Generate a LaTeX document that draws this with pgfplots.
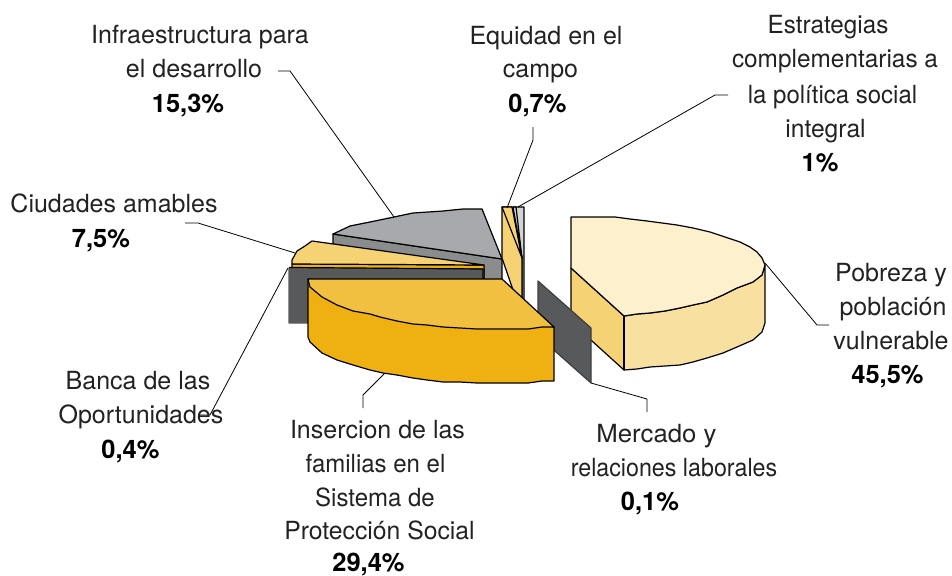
\documentclass[border=0pt]{standalone}
\usepackage{pgfplots}
\pgfplotsset{compat=1.18}
\usepackage{fontspec}
\setmainfont{TeX Gyre Heros}
\definecolor{cGrayTop}{HTML}{A7A9AC}
\definecolor{cGraySide}{HTML}{8A8C8E}
\definecolor{cDark}{HTML}{58595B}
\definecolor{cYel}{HTML}{F5D273}
\definecolor{cOrTop}{HTML}{F1C040}
\definecolor{cOrSide}{HTML}{EEB111}
\definecolor{cPale}{HTML}{FDF0CD}
\definecolor{cPaleSide}{HTML}{F8E0A0}
\definecolor{cLight}{HTML}{D1D3D4}
\definecolor{cTxt}{HTML}{222222}
\tikzset{lab/.style={anchor=base,inner sep=0pt,text=cTxt,overlay,font=\fontsize{25}{25}\selectfont},
 pct/.style={lab,text=black,font=\fontsize{25.5}{25.5}\selectfont\bfseries}}
\newcommand{\sx}[2]{\scalebox{#1}[1]{#2}}
\begin{document}
\begin{tikzpicture}
\begin{axis}[scale only axis,width=952pt,height=575pt,xmin=0,xmax=952,ymin=0,ymax=575,y dir=reverse,hide axis,clip=false,
 every axis plot/.append style={line width=1.2pt,draw=black,no markers,line join=round}]
\path (axis cs:0,0) rectangle (axis cs:952,575);
% gray slice (Infraestructura)
\addplot[fill=cGraySide] coordinates {(333,234)(502,259)(502,281)(484,281)(484,268)(333,244)} --cycle;
\addplot[fill=cGrayTop] coordinates {(333,234)(350,226)(370,222)(394,217)(413,213)(443,211)(463,209)(482,209)(502,259)} --cycle;
% narrow slices
\addplot[fill=cLight] coordinates {(513,207)(524,207)(524,299)(522,299)(522,258)} --cycle;
\addplot[fill=cYel] coordinates {(502,207)(512,207)(522,258)(522,299)(513,290)(502,258)} --cycle;
\addplot[fill=cYel] coordinates {(502,207)(512,207)(522,258)} --cycle;
\addplot[fill=cLight] coordinates {(513,207)(516,207)(522,258)} --cycle;
% Ciudades amables
\addplot[fill=cOrSide] coordinates {(292,264)(484,265)(484,280)(480,280)(480,269)(292,269)} --cycle;
\addplot[fill=cYel] coordinates {(292,264)(292,260)(297,251)(305,246)(312,241)(484,265)} --cycle;
% Banca
\addplot[fill=cDark,draw=cDark] coordinates {(289,268)(483,269)(483,280)(400,280)(400,323)(289,323)} --cycle;
\addplot[draw=black] coordinates {(289,267.5)(483,269)(483,280)};
% Pobreza
\addplot[fill=cYel] coordinates {(571,268)(624,316)(624,370)(571,322)} --cycle;
\addplot[fill=cPaleSide] coordinates {(624,316)(637,314)(650,313)(665,311)(680,308)(693,305)(707,302)(723,295)(737,288)(753,282)(762,275)(765,265)(765,323)(762,332)(753,340)(737,347)(723,353)(707,358)(693,362)(680,365)(665,366)(650,367)(637,369)(624,370)} --cycle;
\addplot[fill=cPale] coordinates {(571,217)(615,217)(630,219)(647,221)(662,223)(677,225)(693,228)(710,232)(725,237)(740,242)(750,247)(757,252)(762,258)(765,265)(762,275)(753,282)(737,288)(723,295)(707,302)(693,305)(680,308)(665,311)(650,313)(637,314)(624,316)(571,268)} --cycle;
\addplot[draw=black,line width=1.7pt] coordinates {(624,316)(624,370)};
% Mercado
\addplot[fill=cDark,draw=cDark!70!black] coordinates {(538,281)(591,328)(591,383)(538,336)} --cycle;
% Insercion
\addplot[fill=cOrSide] coordinates {(308,279)(308,337)(310,342)(322,353)(337,360)(353,365)(370,370)(383,373)(397,375)(413,378)(427,380)(443,382)(460,382)(477,383)(503,383)(528,383)(542,381)(554,381)(554,327)} --cycle;
\addplot[fill=cOrTop] coordinates {(308,279)(502,279)(554,327)(542,327)(528,329)(503,329)(477,329)(460,328)(443,327)(427,325)(413,324)(397,321)(380,317)(370,314)(353,311)(337,305)(322,297)(310,287)} --cycle;
% leaders
\addplot[draw=black,line width=0.8pt] coordinates {(278,71)(290,71)(394,217)};
\addplot[draw=black,line width=0.8pt] coordinates {(185,223)(198,223)(295,253)};
\addplot[draw=black,line width=0.8pt] coordinates {(198,415)(210,415)(288,268)};
\addplot[draw=black,line width=0.8pt] coordinates {(363,408)(363,395)(384,374)};
\addplot[draw=black,line width=0.8pt] coordinates {(533,127)(533,140)(507,208)};
\addplot[draw=black,line width=0.8pt] coordinates {(728,95)(715,95)(518,207)};
\addplot[draw=black,line width=0.8pt] coordinates {(647,412)(647,399)(591,383)};
\addplot[draw=black,line width=0.8pt] coordinates {(829,325)(817,325)(765,263)};
% labels
\node[lab] at (axis cs:200,44) {Infraestructura para};
\node[lab] at (axis cs:194,78) {el desarrollo};
\node[pct] at (axis cs:188,113) {15,3\%};
\node[lab] at (axis cs:114,212) {Ciudades amables};
\node[pct] at (axis cs:101,247) {7,5\%};
\node[lab] at (axis cs:546,45) {Equidad en el};
\node[lab] at (axis cs:540.5,78) {campo};
\node[pct] at (axis cs:537.5,113) {0,7\%};
\node[lab] at (axis cs:828,34) {\sx{0.97}{Estrategias}};
\node[lab] at (axis cs:835,68) {\sx{0.975}{complementarias a}};
\node[lab] at (axis cs:832.5,103) {\sx{0.96}{la política social}};
\node[lab] at (axis cs:825.5,137) {\sx{0.985}{integral}};
\node[pct] at (axis cs:820,171) {1\%};
\node[lab] at (axis cs:138,389) {Banca de las};
\node[lab] at (axis cs:141,423) {Oportunidades};
\node[pct] at (axis cs:130.5,458) {0,4\%};
\node[lab] at (axis cs:377.5,438) {Insercion de las};
\node[lab] at (axis cs:375.5,472) {\sx{0.96}{familias en el}};
\node[lab] at (axis cs:375,506) {\sx{0.96}{Sistema de}};
\node[lab] at (axis cs:379.5,539) {\sx{0.99}{Protección Social}};
\node[pct] at (axis cs:368.5,571) {29,4\%};
\node[lab] at (axis cs:656.5,442) {\sx{1.03}{Mercado y}};
\node[lab] at (axis cs:674,476) {\sx{0.93}{relaciones laborales}};
\node[pct] at (axis cs:650,510) {0,1\%};
\node[lab] at (axis cs:891,281) {Pobreza y};
\node[lab] at (axis cs:893,315) {población};
\node[lab] at (axis cs:891,349) {vulnerable};
\node[pct] at (axis cs:887.5,383) {45,5\%};
\end{axis}
\end{tikzpicture}
\end{document}
